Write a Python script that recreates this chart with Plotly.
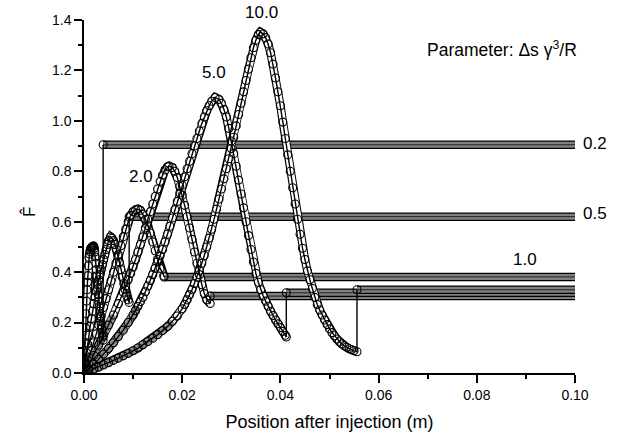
import plotly.graph_objects as go

# ---- data ----
params = ["0.2", "0.5", "1.0", "2.0", "5.0", "10.0"]

x_02 = [0, 0.0001, 0.0002, 0.0003, 0.0004, 0.0005, 0.0006, 0.0007, 0.0008, 0.0009, 0.0010, 0.0011, 0.0012, 0.0013,
        0.0014, 0.0015, 0.0016, 0.0017, 0.0018, 0.0019, 0.0020, 0.0021, 0.0022, 0.0023, 0.0024, 0.0025, 0.0026,
        0.0027, 0.0028, 0.0029, 0.0030, 0.0031, 0.0032, 0.0033, 0.0034, 0.0035, 0.0036, 0.0037, 0.0038, 0.0039]
y_02 = [0, 0.06, 0.12, 0.18, 0.235, 0.285, 0.33, 0.36, 0.386, 0.425, 0.459, 0.472, 0.482, 0.49,
        0.495, 0.498, 0.500, 0.501, 0.502, 0.503, 0.503, 0.495, 0.48, 0.46, 0.435, 0.41, 0.385,
        0.36, 0.335, 0.31, 0.285, 0.265, 0.245, 0.225, 0.205, 0.19, 0.175, 0.158, 0.143, 0.13]

x_05 = [0, 0.00025, 0.0005, 0.00075, 0.001, 0.00125, 0.0015, 0.00175, 0.002, 0.00225, 0.0025, 0.00275, 0.003,
        0.00325, 0.0035, 0.00375, 0.004, 0.00425, 0.0045, 0.00475, 0.005, 0.0054, 0.0057, 0.006, 0.0063, 0.0066,
        0.0069, 0.0072, 0.0075, 0.0078, 0.0081, 0.0084, 0.0087, 0.009, 0.0092]
y_05 = [0, 0.04, 0.08, 0.115, 0.15, 0.185, 0.215, 0.245, 0.275, 0.30, 0.325, 0.35, 0.37,
        0.39, 0.41, 0.43, 0.45, 0.47, 0.49, 0.51, 0.525, 0.54, 0.535, 0.525, 0.51, 0.49,
        0.465, 0.44, 0.41, 0.38, 0.355, 0.33, 0.305, 0.29, 0.28]

x_10 = [0, 0.0005, 0.001, 0.0015, 0.002, 0.0025, 0.003, 0.0035, 0.004, 0.0045, 0.005, 0.0055, 0.006, 0.0065,
        0.007, 0.0075, 0.008, 0.0085, 0.009, 0.0095, 0.010, 0.0105, 0.011, 0.0115, 0.012, 0.0125, 0.013,
        0.0135, 0.014, 0.0145, 0.015, 0.0155, 0.0163]
y_10 = [0, 0.03, 0.06, 0.09, 0.12, 0.155, 0.19, 0.225, 0.26, 0.295, 0.33, 0.365, 0.40, 0.435,
        0.47, 0.505, 0.54, 0.57, 0.60, 0.625, 0.64, 0.648, 0.65, 0.645, 0.63, 0.61, 0.585,
        0.555, 0.52, 0.485, 0.45, 0.415, 0.385]

x_20 = [0, 0.001, 0.002, 0.003, 0.004, 0.005, 0.006, 0.007, 0.008, 0.0085, 0.009, 0.0095, 0.010, 0.0105,
        0.011, 0.0115, 0.012, 0.0125, 0.013, 0.0135, 0.014, 0.0145, 0.015, 0.0155, 0.016, 0.0165, 0.017,
        0.0173, 0.018, 0.0185, 0.019, 0.0195, 0.020, 0.0205, 0.021, 0.0215, 0.022, 0.0225, 0.023, 0.0235,
        0.024, 0.0245, 0.025, 0.0257]
y_20 = [0, 0.035, 0.07, 0.11, 0.15, 0.19, 0.23, 0.275, 0.32, 0.345, 0.37, 0.395, 0.42, 0.45,
        0.48, 0.51, 0.54, 0.575, 0.61, 0.64, 0.67, 0.70, 0.73, 0.76, 0.785, 0.805, 0.818,
        0.821, 0.815, 0.80, 0.775, 0.74, 0.705, 0.665, 0.62, 0.575, 0.53, 0.48, 0.435, 0.39,
        0.35, 0.315, 0.29, 0.276]

x_50 = [0, 0.001, 0.002, 0.003, 0.004, 0.005, 0.006, 0.007, 0.008, 0.009, 0.010, 0.0105, 0.011, 0.0115,
        0.012, 0.0125, 0.013, 0.0135, 0.014, 0.0145, 0.015, 0.0155, 0.016, 0.0165, 0.017, 0.0175, 0.018,
        0.0185, 0.019, 0.0195, 0.020, 0.0205, 0.021, 0.0215, 0.022, 0.0225, 0.023, 0.0235, 0.024, 0.0245,
        0.025, 0.0255, 0.026, 0.0267, 0.0275, 0.028, 0.0285, 0.029, 0.0295, 0.030, 0.0305, 0.031, 0.0315,
        0.032, 0.0325, 0.033, 0.0335, 0.034, 0.0345, 0.035, 0.0355, 0.036, 0.0365, 0.037, 0.0375, 0.038,
        0.0385, 0.039, 0.0395, 0.040, 0.0405, 0.041, 0.0412]
y_50 = [0, 0.017, 0.035, 0.055, 0.075, 0.097, 0.12, 0.145, 0.17, 0.20, 0.23, 0.247, 0.265, 0.283,
        0.30, 0.322, 0.345, 0.367, 0.39, 0.415, 0.44, 0.465, 0.49, 0.52, 0.55, 0.582, 0.615,
        0.648, 0.68, 0.713, 0.745, 0.778, 0.81, 0.84, 0.87, 0.90, 0.93, 0.96, 0.99, 1.015,
        1.04, 1.06, 1.078, 1.093, 1.085, 1.07, 1.045, 1.015, 0.97, 0.92, 0.87, 0.82, 0.765,
        0.71, 0.655, 0.60, 0.545, 0.49, 0.44, 0.395, 0.36, 0.33, 0.305, 0.285, 0.265, 0.245,
        0.228, 0.21, 0.195, 0.18, 0.165, 0.15, 0.143]

x_100 = [0, 0.001, 0.002, 0.003, 0.004, 0.005, 0.006, 0.007, 0.008, 0.009, 0.010, 0.011, 0.012, 0.013,
         0.014, 0.015, 0.016, 0.017, 0.018, 0.019, 0.020, 0.0205, 0.021, 0.0215, 0.022, 0.0225, 0.023,
         0.0235, 0.024, 0.0245, 0.025, 0.0255, 0.026, 0.0265, 0.027, 0.0275, 0.028, 0.0285, 0.029, 0.0295,
         0.030, 0.0305, 0.031, 0.0315, 0.032, 0.0325, 0.033, 0.0335, 0.034, 0.0345, 0.035, 0.0355, 0.0359,
         0.0365, 0.037, 0.0375, 0.038, 0.0385, 0.039, 0.0395, 0.040, 0.0405, 0.041, 0.0415, 0.042, 0.0425,
         0.043, 0.0435, 0.044, 0.0445, 0.045, 0.0455, 0.046, 0.0465, 0.047, 0.0475, 0.048, 0.0485, 0.049,
         0.0495, 0.050, 0.0505, 0.051, 0.0515, 0.052, 0.0525, 0.053, 0.0535, 0.054, 0.0545, 0.055, 0.0556]
y_100 = [0, 0.008, 0.015, 0.023, 0.032, 0.041, 0.05, 0.059, 0.068, 0.078, 0.088, 0.099, 0.112, 0.125,
         0.138, 0.152, 0.168, 0.184, 0.205, 0.226, 0.255, 0.272, 0.29, 0.31, 0.33, 0.355, 0.38,
         0.407, 0.435, 0.466, 0.50, 0.535, 0.57, 0.61, 0.65, 0.69, 0.73, 0.77, 0.81, 0.85,
         0.89, 0.935, 0.98, 1.025, 1.07, 1.115, 1.16, 1.205, 1.25, 1.29, 1.32, 1.342, 1.352,
         1.345, 1.33, 1.305, 1.27, 1.225, 1.17, 1.115, 1.06, 0.995, 0.93, 0.865, 0.80, 0.735,
         0.67, 0.61, 0.55, 0.495, 0.45, 0.405, 0.37, 0.335, 0.30, 0.272, 0.25, 0.23, 0.21,
         0.192, 0.175, 0.16, 0.148, 0.135, 0.124, 0.115, 0.108, 0.102, 0.096, 0.092, 0.088, 0.084]

curves_x = [x_02, x_05, x_10, x_20, x_50, x_100]
curves_y = [y_02, y_05, y_10, y_20, y_50, y_100]
for cx, cy in zip(curves_x, curves_y):
    assert len(cx) == len(cy)

jump_x = [0.0039, 0.0092, 0.0163, 0.0257, 0.0412, 0.0556]      # where each curve joins its plateau
band_level = [0.905, 0.62, 0.381, 0.305, 0.318, 0.33]         # plateau values
x_end = 0.10

# ---- styling / layout (not data) ----
FONT = "Liberation Sans, Arial, sans-serif"
dense_upto = [0, 0, 0, 0.006, 0.011, 0.018]   # shallow start drawn as dense (grey) marker band
label_px = [1.0407, 1.0407, 0.898, 0.116, 0.2648, 0.3605]    # paper coords of parameter labels
label_py = [0.650, 0.4528, 0.322, 0.5556, 0.851, 1.022]
MSIZE = 8

fig = go.Figure()

# flat plateaus: densely packed circles appear as a grey band with black rims
for lx, lv in zip(jump_x, band_level):
    for w, c in [(8.5, "black"), (6, "#808080"), (1, "#222222")]:
        fig.add_trace(go.Scatter(x=[lx, x_end], y=[lv, lv], mode="lines",
                                 line=dict(color=c, width=w), hoverinfo="skip", showlegend=False))

# curve tubes (chains of overlapping open circles)
for cx, cy, du in zip(curves_x, curves_y, dense_upto):
    for w, c in [(8.5, "black"), (6.3, "white")]:
        fig.add_trace(go.Scatter(x=cx, y=cy, mode="lines", line=dict(color=c, width=w),
                                 hoverinfo="skip", showlegend=False))
    n = sum(1 for v in cx if v <= du)
    if n > 1:
        fig.add_trace(go.Scatter(x=cx[:n], y=cy[:n], mode="lines", line=dict(color="#8c8c8c", width=6),
                                 hoverinfo="skip", showlegend=False))

# connectors, curves with markers
for cx, cy, lx, lv, p in zip(curves_x, curves_y, jump_x, band_level, params):
    fig.add_trace(go.Scatter(x=[cx[-1], lx], y=[cy[-1], lv], mode="lines",
                             line=dict(color="black", width=1.4), hoverinfo="skip", showlegend=False))
    fig.add_trace(go.Scatter(x=cx, y=cy, mode="lines+markers", name=p,
                             line=dict(color="black", width=1.4),
                             marker=dict(symbol="circle-open", size=MSIZE, color="black", line=dict(width=1.1)),
                             showlegend=False))
    fig.add_trace(go.Scatter(x=[lx], y=[lv], mode="markers",
                             marker=dict(symbol="circle-open", size=MSIZE, color="black", line=dict(width=1.1)),
                             hoverinfo="skip", showlegend=False))

annotations = []
for p, lx, ly in zip(params, label_px, label_py):
    annotations.append(dict(x=lx, y=ly, xref="paper", yref="paper", text=p, showarrow=False,
                            xanchor="center", yanchor="middle",
                            font=dict(family=FONT, size=17, color="black")))
annotations.append(dict(x=0.851, y=0.9167, xref="paper", yref="paper",
                        text="Parameter: \u0394s \u03b3<sup>3</sup>/R", xanchor="center", yanchor="middle",
                        showarrow=False, font=dict(family=FONT, size=17.5, color="black")))
annotations.append(dict(x=-0.112, y=0.456, xref="paper", yref="paper", text="F\u0302", textangle=-90,
                        xanchor="center", yanchor="middle",
                        showarrow=False, font=dict(family=FONT, size=17, color="black")))

fig.update_layout(
    width=639, height=441,
    margin=dict(l=84, r=64, t=16, b=65),
    paper_bgcolor="white", plot_bgcolor="white",
    annotations=annotations,
    font=dict(family=FONT, color="black"),
)
fig.update_xaxes(range=[0, 0.10], dtick=0.02, tick0=0, tickformat=".2f",
                 showline=True, linecolor="black", linewidth=1.5, mirror=False,
                 ticks="outside", ticklen=8, tickwidth=1.5, tickcolor="black",
                 minor=dict(dtick=0.01, ticks="outside", ticklen=4, tickwidth=1.5, tickcolor="black"),
                 showgrid=False, zeroline=False, tickfont=dict(size=14),
                 title=dict(text="Position after injection (m)", font=dict(size=18), standoff=14))
fig.update_yaxes(range=[0, 1.4], dtick=0.2, tick0=0, tickformat=".1f",
                 showline=True, linecolor="black", linewidth=1.5, mirror=False,
                 ticks="outside", ticklen=8, tickwidth=1.5, tickcolor="black",
                 minor=dict(dtick=0.1, ticks="outside", ticklen=4, tickwidth=1.5, tickcolor="black"),
                 showgrid=False, zeroline=False, tickfont=dict(size=14))

fig.write_html("out.html")
